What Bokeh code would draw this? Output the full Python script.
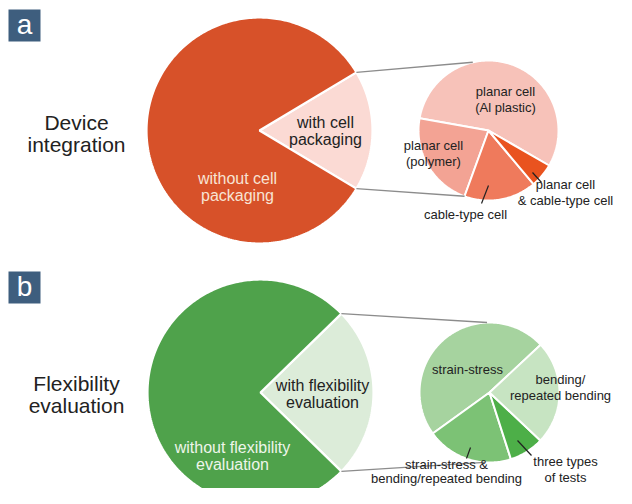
import numpy as np
from bokeh.plotting import figure
from bokeh.models import Range1d
from bokeh.core.properties import value
from bokeh.embed import file_html
from bokeh.resources import INLINE

# ---------------- data ----------------
panel_letters = ["a", "b"]
panel_titles = ["Device\nintegration", "Flexibility\nevaluation"]

a_main_labels = ["with cell\npackaging", "without cell\npackaging"]
a_main_values = [17.2, 82.8]
a_sub_labels = ["planar cell\n(Al plastic)", "planar cell\n(polymer)", "cable-type cell",
                "planar cell\n& cable-type cell"]
a_sub_values = [20, 8, 6, 2]

b_main_labels = ["with flexibility\nevaluation", "without flexibility\nevaluation"]
b_main_values = [24.6, 75.4]
b_sub_labels = ["strain-stress", "strain-stress &\nbending/repeated bending",
                "three types\nof tests", "bending/\nrepeated bending"]
b_sub_values = [12, 5, 2, 6]

# ---------------- styles / layout ----------------
a_main_colors = ["#FBDAD4", "#D75129"]
a_sub_colors = ["#F7C2B9", "#F3A394", "#EF7A5C", "#E9531F"]
b_main_colors = ["#DCECD9", "#4FA24B"]
b_sub_colors = ["#A6D39F", "#7CC275", "#4DAF48", "#C7E4C2"]

FONT = "Liberation Sans"
W, H = 616, 488

p = figure(width=W, height=H, output_backend="svg", toolbar_location=None,
           x_range=Range1d(0, W), y_range=Range1d(H, 0), min_border=0)
p.axis.visible = False
p.grid.visible = False
p.outline_line_color = None
p.background_fill_color = "white"


def cum_angles(values, start):
    v = np.asarray(values, float)
    return start + np.concatenate([[0.0], np.cumsum(v) / v.sum() * 360.0])


def wedge(cx, cy, r, a0, a1):
    n = max(int(abs(a1 - a0) / 1.0), 6)
    t = np.radians(np.linspace(a0, a1, n))
    xs = [cx] + list(cx + r * np.cos(t)) + [cx]
    ys = [cy] + list(cy - r * np.sin(t)) + [cy]
    return xs, ys


def pt(cx, cy, r, a):
    return cx + r * np.cos(np.radians(a)), cy - r * np.sin(np.radians(a))


def draw_pie(cx, cy, r, values, start, colors, lw=2.2):
    ang = cum_angles(values, start)
    xs, ys = [], []
    for i in range(len(values)):
        x, y = wedge(cx, cy, r, ang[i], ang[i + 1])
        xs.append(x)
        ys.append(y)
    p.patches(xs, ys, fill_color=colors, line_color="white", line_width=lw)
    return ang


def label(x, y, txt, size, color="#222222", lh=1.0):
    p.text([x], [y], text=[txt], text_font=value(FONT), text_font_size=f"{size}px",
           text_color=color, text_align="center", text_baseline="middle",
           text_line_height=lh)


panels = [
    dict(letter=panel_letters[0], title=panel_titles[0], oy=0,
         main_vals=a_main_values, main_labels=a_main_labels, main_colors=a_main_colors,
         sub_vals=a_sub_values, sub_labels=a_sub_labels, sub_colors=a_sub_colors,
         main=(259, 130, 113), sub=(488, 130, 70), sub_start=-30,
         conn_end=(103, 250), out_color="#F7E4D4",
         main_pos=[(325, 130), (237, 186)],
         sub_pos=[(505, 99), (433, 153), (465, 214), (565, 192)],
         leaders=[None, None, ((488, 185), (481, 203)), ((532, 172), (541, 182))],
         label_lh=[1.05, 1.05, 1.05, 1.05],
         title_pos=(76, 133)),
    dict(letter=panel_letters[1], title=panel_titles[1], oy=262,
         main_vals=b_main_values, main_labels=b_main_labels, main_colors=b_main_colors,
         sub_vals=b_sub_values, sub_labels=b_sub_labels, sub_colors=b_sub_colors,
         main=(260, 392, 113), sub=(489, 392, 70), sub_start=43,
         conn_end=(92, 266), out_color="#EEF5EA",
         main_pos=[(322, 393), (232, 455)],
         sub_pos=[(467, 369), (446, 471), (565, 469), (560, 387)],
         leaders=[None, ((470, 447), (466, 458)), ((517, 440), (531, 455)), None],
         label_lh=[1.05, 0.95, 1.05, 1.05],
         title_pos=(76, 394)),
]

for pn in panels:
    # panel letter box
    oy = pn["oy"]
    p.rect([24], [25 + oy], width=32, height=32, fill_color="#3E5E7E", line_color=None)
    label(24, 23.5 + oy, pn["letter"], 28, color="white")
    # title
    tx, ty = pn["title_pos"]
    label(tx, ty, pn["title"], 21, lh=0.95)

    # main pie: first slice centred on 0 deg
    cx, cy, r = pn["main"]
    v = np.asarray(pn["main_vals"], float)
    first = v[0] / v.sum() * 360
    ang = draw_pie(cx, cy, r, pn["main_vals"], -first / 2, pn["main_colors"], lw=2.2)

    # sub pie
    sx, sy, sr = pn["sub"]
    draw_pie(sx, sy, sr, pn["sub_vals"], pn["sub_start"], pn["sub_colors"], lw=2.0)

    # connector lines from the boundaries of the highlighted slice
    top_start = pt(cx, cy, r, ang[1])
    bot_start = pt(cx, cy, r, ang[0])
    top_end = pt(sx, sy, sr, pn["conn_end"][0])
    bot_end = pt(sx, sy, sr, pn["conn_end"][1])
    p.segment([top_start[0], bot_start[0]], [top_start[1], bot_start[1]],
              [top_end[0], bot_end[0]], [top_end[1], bot_end[1]],
              line_color="#8C8C8C", line_width=1.4)

    # main labels
    (x0, y0), (x1, y1) = pn["main_pos"]
    label(x0, y0, pn["main_labels"][0], 16, lh=1.0)
    label(x1, y1, pn["main_labels"][1], 16, color=pn["out_color"], lh=1.0)

    # sub labels and leaders
    for (lx, ly), txt, ld, lh in zip(pn["sub_pos"], pn["sub_labels"], pn["leaders"],
                                     pn["label_lh"]):
        label(lx, ly, txt, 13, lh=lh)
        if ld is not None:
            (ax, ay), (bx, by) = ld
            p.segment([ax], [ay], [bx], [by], line_color="#222222", line_width=1.2)

open("out.html", "w").write(file_html(p, INLINE))
